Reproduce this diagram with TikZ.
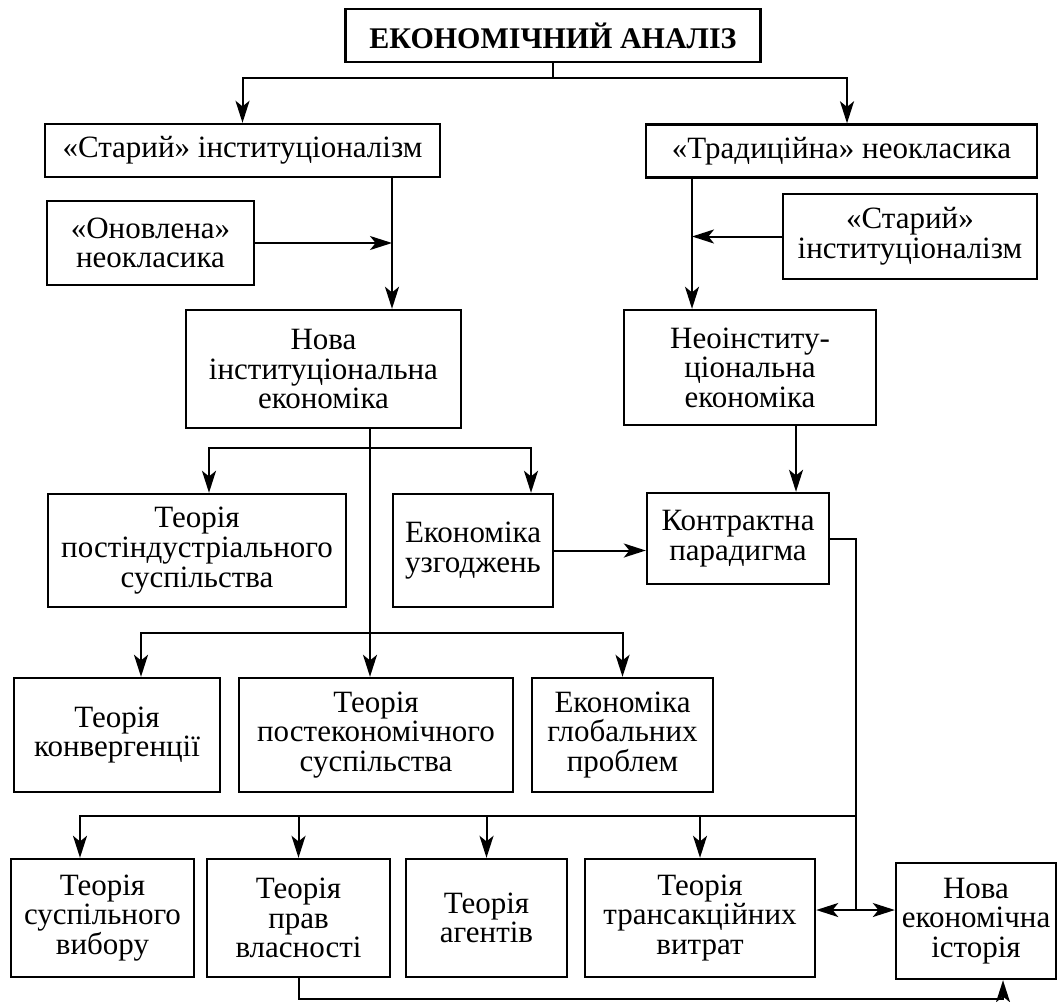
\documentclass[tikz,border=0pt]{standalone}
\usepackage{fontspec}
\setmainfont{Liberation Serif}
\usetikzlibrary{arrows.meta}

\begin{document}
\begin{tikzpicture}[x=0.5pt, y=-0.5pt, ->, >={Stealth[length=11pt,width=7pt,inset=2.8pt]}, line width=1pt]
    \tikzstyle{block}=[draw, line width=1.2pt, align=center, inner sep=0pt, font=\fontsize{15.5}{14.8}\selectfont]
    \tikzstyle{title block}=[block, font=\fontsize{15}{15}\selectfont\bfseries]
    \tikzstyle{wide row}=[block, minimum height=26.5pt]
    \tikzstyle{third row}=[block, minimum height=57pt]
    \tikzstyle{fourth row}=[block, minimum height=59pt]

    \useasboundingbox (0,0) rectangle (1058,1001);

    % Draw the top of the scheme
    \node[title block, minimum width=207.5pt, minimum height=26.5pt] (econ) at (553,35.5) {ЕКОНОМІЧНИЙ АНАЛІЗ};
    \node[wide row, minimum width=197.5pt] (oldinst) at (242.5,150.5) {«Старий» інституціоналізм};
    \node[wide row, minimum width=195.5pt] (tradneo) at (841.5,151) {«Традиційна» неокласика};

    % Side inputs
    \node[block, minimum width=103.5pt, minimum height=42pt] (renewneo) at (150.5,243) {«Оновлена»\\неокласика};
    \node[block, minimum width=127pt, minimum height=42.5pt] (oldinst2) at (910,236.5) {«Старий»\\інституціоналізм};

    % The two new schools
    \node[block, minimum width=137.5pt, minimum height=59pt] (newinst) at (323.5,369) {Нова\\інституціональна\\економіка};
    \node[block, minimum width=126pt, minimum height=57.5pt] (neoinst) at (750,367.5) {Неоінститу-\\ціональна\\економіка};

    % Second level
    \node[block, minimum width=149pt, minimum height=56.5pt] (postind) at (197,550.5) {Теорія\\постіндустріального\\суспільства};
    \node[block, minimum width=80pt, minimum height=56.5pt] (agree) at (473,550.5) {Економіка\\узгоджень};
    \node[block, minimum width=91pt, minimum height=45.5pt] (contract) at (738,538.5) {Контрактна\\парадигма};

    % Third level
    \node[third row, minimum width=103pt] (converg) at (117,735) {Теорія\\конвергенції};
    \node[third row, minimum width=137pt] (postecon) at (376,735) {Теорія\\постекономічного\\суспільства};
    \node[third row, minimum width=90.5pt] (global) at (622.5,735) {Економіка\\глобальних\\проблем};

    % Bottom row
    \node[fourth row, minimum width=91.5pt] (pubchoice) at (102.5,918) {Теорія\\суспільного\\вибору};
    \node[fourth row, minimum width=91.5pt] (property) at (298.5,918) {Теорія\\прав\\власності};
    \node[fourth row, minimum width=80.5pt] (agents) at (486.5,918) {Теорія\\агентів};
    \node[fourth row, minimum width=115pt] (transcost) at (700,918) {Теорія\\трансакційних\\витрат};
    \node[fourth row, minimum width=80pt, minimum height=58pt] (newhist) at (976,921) {Нова\\економічна\\історія};

    % Split of the economic analysis
    \coordinate (split) at (553,78);
    \draw[-] (econ.south) -- (split);
    \draw (split) -| (oldinst.north);
    \draw (split) -| ([xshift=2.75pt]tradneo.north);

    % Old institutionalism and renewed neoclassics
    \coordinate (oldout) at ([xshift=74.75pt]oldinst.south);
    \draw (oldout) -- (oldout |- newinst.north);
    \draw (renewneo.east) -- (renewneo.east -| oldout);

    % Traditional neoclassics and old institutionalism
    \coordinate (tradout) at ([xshift=-74.75pt]tradneo.south);
    \draw (tradout) -- (tradout |- neoinst.north);
    \draw (oldinst2.west) -- (oldinst2.west -| tradout);

    % Branches of the new institutional economics
    \coordinate (nieout) at ([xshift=23.25pt]newinst.south);
    \coordinate (fork1) at ([yshift=-9.5pt]nieout);
    \coordinate (fork2) at ([yshift=-102pt]nieout);
    \draw (nieout) -- (nieout |- postecon.north);
    \draw (fork1) -| ([xshift=6pt]postind.north);
    \draw (fork1) -| ([xshift=29pt]agree.north);
    \draw (fork2) -| ([xshift=12pt]converg.north);
    \draw (fork2) -| (global.north);

    % Neoinstitutional economics and the contract paradigm
    \coordinate (neoout) at ([xshift=23pt]neoinst.south);
    \draw (neoout) -- (neoout |- contract.north);
    \draw (agree.east) -- (agree.east -| contract.west);

    % Contract paradigm down to the theories
    \coordinate (hub) at (856,910);
    \coordinate (fork3) at (856,816);
    \draw[-] (contract.east) -| (hub);
    \draw[<->] (hub -| transcost.east) -- (hub -| newhist.west);
    \draw (fork3) -| ([xshift=-11.25pt]pubchoice.north);
    \foreach \dest in {property,agents,transcost}
        \draw (fork3) -| (\dest.north);

    % Property rights and new economic history
    \draw (property.south) -- ++(0,21) -| ([xshift=13.5pt]newhist.south);
\end{tikzpicture}
\end{document}
